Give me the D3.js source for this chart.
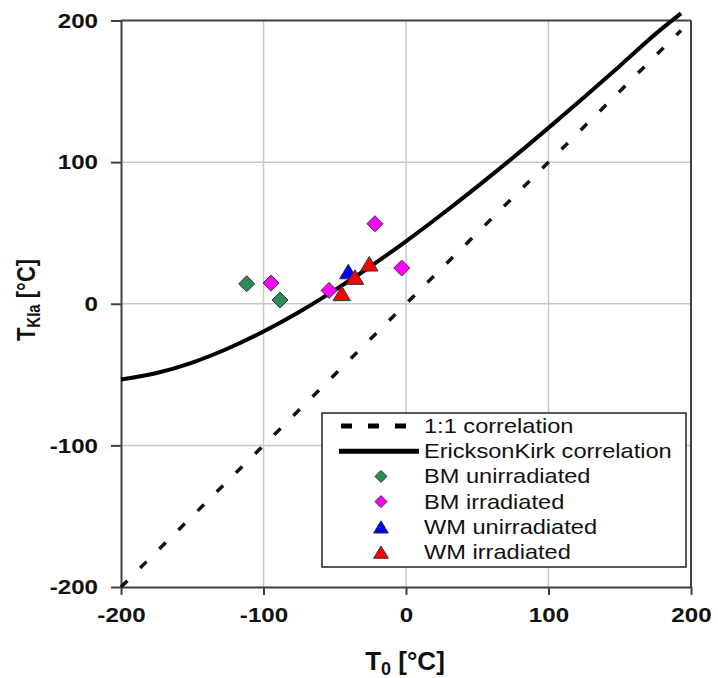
<!DOCTYPE html>
<html>
<head>
<meta charset="utf-8">
<script src="https://cdn.jsdelivr.net/npm/d3@7"></script>
<style>
  html, body { margin: 0; padding: 0; background: #fff; }
  svg { display: block; font-family: "Liberation Sans", Arial, sans-serif; }
</style>
</head>
<body>
<svg id="chart" width="718" height="678"></svg>
<script>
// Axis ticks
const xTicks = [-200, -100, 0, 100, 200];
const yTicks = [-200, -100, 0, 100, 200];

// 1:1 reference line
const oneToOneT0 = [-200, 193];
const oneToOneTKIa = [-200, 193];

// EricksonKirk correlation curve (T0, TKIa)
const ekT0 = [-200, -175, -150, -125, -100, -75, -50, -25, 0, 25, 50, 75, 100, 125, 150, 175, 193];
const ekTKIa = [-53.5, -48.9, -41.5, -31.6, -19.6, -5.8, 9.6, 26.3, 44.1, 63.0, 82.7, 103.1, 124.2, 145.8, 167.9, 190.4, 205.0];

// Measured points
const bmUnirrT0 = [-111.8, -88.4];
const bmUnirrTKIa = [14.1, 2.6];
const bmIrrT0 = [-94.7, -54.0, -21.8, -3.0];
const bmIrrTKIa = [14.6, 9.4, 56.5, 25.2];
const wmUnirrT0 = [-40.5];
const wmUnirrTKIa = [22.0];
const wmIrrT0 = [-45.1, -35.8, -25.8];
const wmIrrTKIa = [6.6, 18.1, 27.5];

const legendLabels = ["1:1 correlation", "EricksonKirk correlation", "BM unirradiated", "BM irradiated", "WM unirradiated", "WM irradiated"];

const svg = d3.select("#chart");
const plotLeft = 121, plotRight = 691, plotTop = 20.5, plotBottom = 587;

const x = d3.scaleLinear().domain([-200, 200]).range([plotLeft, plotRight]);
const y = d3.scaleLinear().domain([-200, 200]).range([plotBottom, plotTop]);

// gridlines
const grid = svg.append("g");
grid.selectAll("line.gx").data(xTicks.slice(1, -1)).enter().append("line")
  .attr("x1", d => x(d)).attr("x2", d => x(d)).attr("y1", plotTop).attr("y2", plotBottom)
  .attr("stroke", "#c8c8c8").attr("stroke-width", 1.5);
grid.selectAll("line.gy").data(yTicks.slice(1, -1)).enter().append("line")
  .attr("y1", d => y(d)).attr("y2", d => y(d)).attr("x1", plotLeft).attr("x2", plotRight)
  .attr("stroke", "#c8c8c8").attr("stroke-width", 1.5);

// frame (top and right)
svg.append("line").attr("x1", plotLeft).attr("x2", plotRight).attr("y1", plotTop).attr("y2", plotTop)
  .attr("stroke", "#404040").attr("stroke-width", 2);
svg.append("line").attr("x1", plotRight).attr("x2", plotRight).attr("y1", plotTop).attr("y2", plotBottom)
  .attr("stroke", "#404040").attr("stroke-width", 2);

// axes
const fmt = d => String(d);
const xAxis = svg.append("g").attr("transform", `translate(0,${plotBottom})`)
  .call(d3.axisBottom(x).tickValues(xTicks).tickFormat(fmt).tickSizeInner(8).tickSizeOuter(0).tickPadding(12));
const yAxis = svg.append("g").attr("transform", `translate(${plotLeft},0)`)
  .call(d3.axisLeft(y).tickValues(yTicks).tickFormat(fmt).tickSizeInner(10).tickSizeOuter(0).tickPadding(10));
[xAxis, yAxis].forEach(g => {
  g.select(".domain").attr("stroke", "#404040").attr("stroke-width", 2);
  g.selectAll(".tick line").attr("stroke", "#404040").attr("stroke-width", 2);
  g.selectAll(".tick text").attr("fill", "#111").attr("font-size", 21).attr("font-weight", "bold")
    .attr("font-family", "'Liberation Sans', Arial, sans-serif")
    .attr("transform", "scale(1.15,1)");
});

// 1:1 line
const line = d3.line().x(d => x(d[0])).y(d => y(d[1]));
svg.append("path").datum(d3.zip(oneToOneT0, oneToOneTKIa))
  .attr("d", line).attr("fill", "none").attr("stroke", "#111")
  .attr("stroke-width", 3.5).attr("stroke-dasharray", "9,18");

// EricksonKirk curve
svg.append("path").datum(d3.zip(ekT0, ekTKIa))
  .attr("d", line.curve(d3.curveMonotoneX)).attr("fill", "none").attr("stroke", "#000")
  .attr("stroke-width", 4);

// markers
const diamond = s => `M0,${-s}L${s},0L0,${s}L${-s},0Z`;
const tri = s => `M0,${-s}L${s * 1.05},${s * 0.75}L${-s * 1.05},${s * 0.75}Z`;
const series = [
  { xs: bmUnirrT0, ys: bmUnirrTKIa, shape: diamond(8), fill: "#2e8b57" },
  { xs: bmIrrT0, ys: bmIrrTKIa, shape: diamond(8), fill: "#ff00ff" },
  { xs: wmUnirrT0, ys: wmUnirrTKIa, shape: tri(8.3), fill: "#0000ff" },
  { xs: wmIrrT0, ys: wmIrrTKIa, shape: tri(8.3), fill: "#ff0000" }
];
series.forEach(s => {
  svg.append("g").selectAll("path").data(d3.zip(s.xs, s.ys)).enter().append("path")
    .attr("transform", d => `translate(${x(d[0])},${y(d[1])})`)
    .attr("d", s.shape).attr("fill", s.fill).attr("stroke", "#333").attr("stroke-width", 1);
});

// axis titles
const xt = svg.append("text").attr("x", 405).attr("y", 670).attr("text-anchor", "middle")
  .attr("font-size", 26).attr("font-weight", "bold").attr("fill", "#111");
xt.append("tspan").text("T");
xt.append("tspan").attr("font-size", 18).attr("dy", 5).text("0");
xt.append("tspan").attr("dy", -5).text(" [°C]");

const yt = svg.append("text").attr("transform", "translate(35,300) rotate(-90) scale(1,1.2)")
  .attr("text-anchor", "middle")
  .attr("font-size", 22).attr("font-weight", "bold").attr("fill", "#111");
yt.append("tspan").text("T");
yt.append("tspan").attr("font-size", 15).attr("dy", 4).text("KIa");
yt.append("tspan").attr("dy", -4).text(" [°C]");

// legend
const lg = svg.append("g");
lg.append("rect").attr("x", 322).attr("y", 413).attr("width", 364).attr("height", 154)
  .attr("fill", "#fff").attr("stroke", "#222").attr("stroke-width", 1.5);
const rowY = i => 426 + i * 25.2;
lg.append("line").attr("x1", 341).attr("x2", 408).attr("y1", rowY(0)).attr("y2", rowY(0))
  .attr("stroke", "#000").attr("stroke-width", 5).attr("stroke-dasharray", "11,16");
lg.append("line").attr("x1", 339).attr("x2", 419).attr("y1", rowY(1)).attr("y2", rowY(1))
  .attr("stroke", "#000").attr("stroke-width", 5);
const legendMarks = [
  { shape: diamond(6), fill: "#2e8b57" },
  { shape: diamond(6), fill: "#ff00ff" },
  { shape: tri(7), fill: "#0000ff" },
  { shape: tri(7), fill: "#ff0000" }
];
legendMarks.forEach((m, i) => {
  lg.append("path").attr("transform", `translate(381,${rowY(i + 2) + (i >= 2 ? 1 : 0)})`)
    .attr("d", m.shape).attr("fill", m.fill).attr("stroke", "#333").attr("stroke-width", 1);
});
lg.selectAll("text").data(legendLabels).enter().append("text")
  .attr("transform", (d, i) => `translate(424,${rowY(i) + 7}) scale(1.18,1)`)
  .attr("font-size", 20).attr("fill", "#111").text(d => d);
</script>
</body>
</html>
